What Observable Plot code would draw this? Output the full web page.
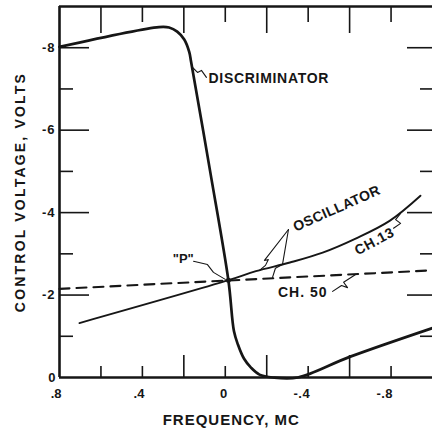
<!DOCTYPE html>
<html><head><meta charset="utf-8">
<script src="https://cdn.jsdelivr.net/npm/d3@7"></script>
<script src="https://cdn.jsdelivr.net/npm/@observablehq/plot@0.6"></script>
<style>
html,body{margin:0;padding:0;background:#fff;}
#chart svg{display:block;}
</style>
</head><body><div id="chart"></div>
<script>
// ---- data (frequency in MC, control voltage in volts) ----
const discFreq = [0.8, 0.32, 0.271, 0.232, 0.198, 0.174, 0.165, 0.073, -0.015, -0.042, -0.061, -0.09, -0.124, -0.165, -0.23, -0.35, -0.6, -1.0];
const discVolt = [-8.02, -8.5, -8.49, -8.39, -8.2, -7.9, -7.66, -5.0, -2.36, -1.12, -0.8, -0.46, -0.24, -0.07, 0, 0, -0.5, -1.2];

const oscFreq = [0.704, -0.015, -0.148, -0.312, -0.47, -0.629, -0.793, -0.942];
const oscVolt = [-1.32, -2.36, -2.58, -2.79, -3.03, -3.37, -3.8, -4.41];

const ch50Freq = [0.8, -1.0];
const ch50Volt = [-2.15, -2.6];

// axis ticks
const yMajorTicks = [-2, -4, -6, -8];
const yMinorTicks = [-1, -3, -5, -7];
const yTickLabels = [0, -2, -4, -6, -8];
const xTopMajor = [0.6, 0.2, -0.2, -0.6];
const xTopMinor = [0.4, 0, -0.4, -0.8];
const xBottomMajor = [0.2, -0.2, -0.6];
const xBottomMinor = [0.6, 0.4, 0, -0.4, -0.8];
const xLabelValues = [0.8, 0.4, 0, -0.4, -0.8];
const xLabelTexts = [".8", ".4", "0", "-.4", "-.8"];

const xTitle = "FREQUENCY, MC";
const yTitle = "CONTROL VOLTAGE, VOLTS";

// annotations (in data units)
const annText = ["DISCRIMINATOR", "OSCILLATOR", "CH.13", "CH. 50", "\"P\""];
const annFreq = [0.081, -0.538, -0.72, -0.374, 0.203];
const annVolt = [-7.26, -4.10, -3.30, -2.06, -2.89];

// leader lines (id, freq, volt)
const leaderId   = ["d","d","d","d", "p","p","p","p", "o1","o1","o1","o1","o1", "o2","o2","o2","o2", "c13","c13","c13","c13", "c50","c50","c50","c50","c50"];
const leaderFreq = [0.158,0.134,0.115,0.091, 0.153,0.086,0.057,0.0, -0.305,-0.189,-0.208,-0.194,-0.165, -0.305,-0.276,-0.242,-0.228, -0.812,-0.846,-0.822,-0.846, -0.518,-0.561,-0.59,-0.571,-0.629];
const leaderVolt = [-7.52,-7.40,-7.45,-7.28, -2.82,-2.74,-2.55,-2.38, -3.59,-2.84,-2.86,-2.72,-2.60, -3.59,-2.74,-2.65,-2.43, -3.62,-3.74,-3.83,-3.98, -2.09,-2.23,-2.18,-2.31,-2.50];

// ---- build tables ----
const disc = discFreq.map((f, i) => ({f, v: discVolt[i]}));
const osc = oscFreq.map((f, i) => ({f, v: oscVolt[i]}));
const ch50 = ch50Freq.map((f, i) => ({f, v: ch50Volt[i]}));
const leaders = leaderId.map((id, i) => ({id, f: leaderFreq[i], v: leaderVolt[i]}));
const ann = annText.map((t, i) => ({t, f: annFreq[i], v: annVolt[i]}));

const W = 432, H = 438, mL = 59, mR = 0, mT = 6, mB = 61;
const pW = W - mL - mR, pH = H - mT - mB;
const ink = "#161616";
const FONT = "'Liberation Sans', Arial, sans-serif";

const chart = Plot.plot({
  width: W, height: H,
  marginLeft: mL, marginRight: mR, marginTop: mT, marginBottom: mB,
  style: {fontFamily: FONT, fontWeight: "bold", color: ink, background: "#fff", overflow: "visible"},
  x: {domain: [0.8, -1.0], axis: null},
  y: {domain: [0, -9], axis: null},
  marks: [
    // frame (left, top, bottom)
    Plot.ruleX([0.8], {stroke: ink, strokeWidth: 2.6}),
    Plot.ruleY([0], {stroke: ink, strokeWidth: 2.6}),
    Plot.ruleY([-9], {stroke: ink, strokeWidth: 2.4}),
    // left ticks
    Plot.tickY(yMajorTicks, {y: d => d, insetRight: pW - 30, stroke: ink, strokeWidth: 1.6}),
    Plot.tickY(yMinorTicks, {y: d => d, insetRight: pW - 14, stroke: ink, strokeWidth: 1.6}),
    // right ticks
    Plot.tickY(yMajorTicks, {y: d => d, insetLeft: pW - 25, stroke: ink, strokeWidth: 1.6}),
    Plot.tickY(yMinorTicks, {y: d => d, insetLeft: pW - 12, stroke: ink, strokeWidth: 1.6}),
    // top ticks
    Plot.tickX(xTopMajor, {x: d => d, insetBottom: pH - 27, stroke: ink, strokeWidth: 1.6}),
    Plot.tickX(xTopMinor, {x: d => d, insetBottom: pH - 16, stroke: ink, strokeWidth: 1.6}),
    // bottom ticks
    Plot.tickX(xBottomMajor, {x: d => d, insetTop: pH - 22, stroke: ink, strokeWidth: 1.6}),
    Plot.tickX(xBottomMinor, {x: d => d, insetTop: pH - 11, stroke: ink, strokeWidth: 1.6}),
    // tick labels
    Plot.text(yTickLabels, {y: d => d, text: d => String(d), frameAnchor: "left", dx: -4, textAnchor: "end", fontSize: 13, fill: ink}),
    Plot.text(xLabelValues, {x: d => d, text: (d, i) => xLabelTexts[i], frameAnchor: "bottom", dy: 20, dx: 2, textAnchor: "end", fontSize: 13, fill: ink}),
    // titles
    Plot.text([xTitle], {x: 0, frameAnchor: "bottom", dy: 47, dx: 6, text: d => d, textAnchor: "middle", fontSize: 15, fill: ink}),
    Plot.text([yTitle], {frameAnchor: "left", dx: -39, rotate: -90, text: d => d, textAnchor: "middle", fontSize: 14, fill: ink}),
    // curves
    Plot.line(ch50, {x: "f", y: "v", stroke: ink, strokeWidth: 2.1, strokeDasharray: "10,7"}),
    Plot.line(osc, {x: "f", y: "v", stroke: ink, strokeWidth: 1.9, curve: "catmull-rom"}),
    Plot.line(disc, {x: "f", y: "v", stroke: ink, strokeWidth: 2.7, curve: "catmull-rom"}),
    // leaders
    Plot.line(leaders, {x: "f", y: "v", z: "id", stroke: ink, strokeWidth: 1.1}),
    Plot.dot([ann[4]], {x: () => -0.015, y: () => -2.36, r: 2.5, fill: ink}),
    // annotations
    Plot.text([ann[0]], {x: "f", y: "v", text: "t", textAnchor: "start", fontSize: 14, fill: ink}),
    Plot.text([ann[1]], {x: "f", y: "v", text: "t", rotate: -24, fontSize: 14, fill: ink}),
    Plot.text([ann[2]], {x: "f", y: "v", text: "t", rotate: -28, fontSize: 14, fill: ink}),
    Plot.text([ann[3]], {x: "f", y: "v", text: "t", fontSize: 14, fill: ink}),
    Plot.text([ann[4]], {x: "f", y: "v", text: "t", fontSize: 13, fill: ink})
  ]
});

// letter spacing to match the wide hand lettering
const spacing = {
  [yTitle]: 2.2, [xTitle]: 1, "DISCRIMINATOR": 0.7, "OSCILLATOR": 0.4,
  "CH.13": 0.6, "CH. 50": 1, "-8": 1, "-6": 1, "-4": 1, "-2": 1, "-.4": 0.5, "-.8": 0.5
};
d3.select(chart).selectAll("text").each(function () {
  const s = spacing[this.textContent];
  if (s != null) this.setAttribute("letter-spacing", s);
});
document.getElementById("chart").appendChild(chart);
</script>
</body></html>
